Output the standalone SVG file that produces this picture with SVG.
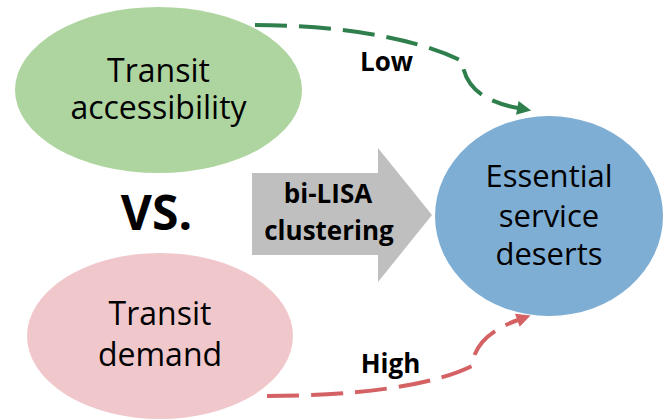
<svg xmlns="http://www.w3.org/2000/svg" width="663" height="420" viewBox="0 0 663 420">
  <style>
    .label { font-family: "Open Sans", "Noto Sans", "Liberation Sans", sans-serif; fill: #000; text-anchor: middle; }
    .node-text { font-size: 32px; }
    .bold { font-weight: bold; }
    .link { fill: none; stroke-width: 4; stroke-dasharray: 32 12; }
  </style>
  <defs>
    <marker id="head-green" viewBox="0 0 10 10" refX="0.5" refY="5" markerWidth="15" markerHeight="14" markerUnits="userSpaceOnUse" orient="auto">
      <path d="M0,0 L10,5 L0,10 z" fill="#2F7F4D"/>
    </marker>
    <marker id="head-red" viewBox="0 0 10 10" refX="0.5" refY="5" markerWidth="15" markerHeight="14" markerUnits="userSpaceOnUse" orient="auto">
      <path d="M0,0 L10,5 L0,10 z" fill="#D46163"/>
    </marker>
  </defs>

  <rect width="663" height="420" fill="#ffffff"/>

  <!-- dashed connectors -->
  <g id="connectors">
    <path class="link" stroke="#2F7F4D" d="M255,25 C330,25 412,36 462,61 C465,88 485,102 518,108" marker-end="url(#head-green)"/>
    <path class="link" stroke="#D46163" d="M267,396 C355,396 432,386 472,366 C474,345 490,330 518,320" marker-end="url(#head-red)"/>
  </g>

  <g id="accessibility">
    <ellipse cx="158.5" cy="90" rx="143.5" ry="83" fill="#AED5A0"/>
    <text class="label node-text" x="158.5" y="82">Transit</text>
    <text class="label node-text" x="158.5" y="119">accessibility</text>
  </g>

  <g id="demand">
    <ellipse cx="160" cy="336" rx="133" ry="83" fill="#F0C8CC"/>
    <text class="label node-text" x="160" y="325">Transit</text>
    <text class="label node-text" x="160" y="366">demand</text>
  </g>

  <g id="deserts">
    <ellipse cx="549" cy="216" rx="114" ry="100" fill="#7FAED5"/>
    <text class="label" font-size="31" x="549" y="187">Essential</text>
    <text class="label" font-size="31" x="549" y="227">service</text>
    <text class="label" font-size="31" x="549" y="265">deserts</text>
  </g>

  <g id="versus">
    <text class="label bold" font-size="48" x="156.5" y="230">VS.</text>
  </g>

  <g id="clustering">
    <polygon points="252,173 378,173 378,148 432,215 378,282 378,255 252,255" fill="#BFBFBF"/>
    <text class="label bold" font-size="26" x="328" y="203">bi-LISA</text>
    <text class="label bold" font-size="26" x="329" y="240">clustering</text>
  </g>

  <g id="edge-labels">
    <text class="label bold" font-size="26" x="386.5" y="71">Low</text>
    <text class="label bold" font-size="26" x="390.5" y="373">High</text>
  </g>
</svg>
